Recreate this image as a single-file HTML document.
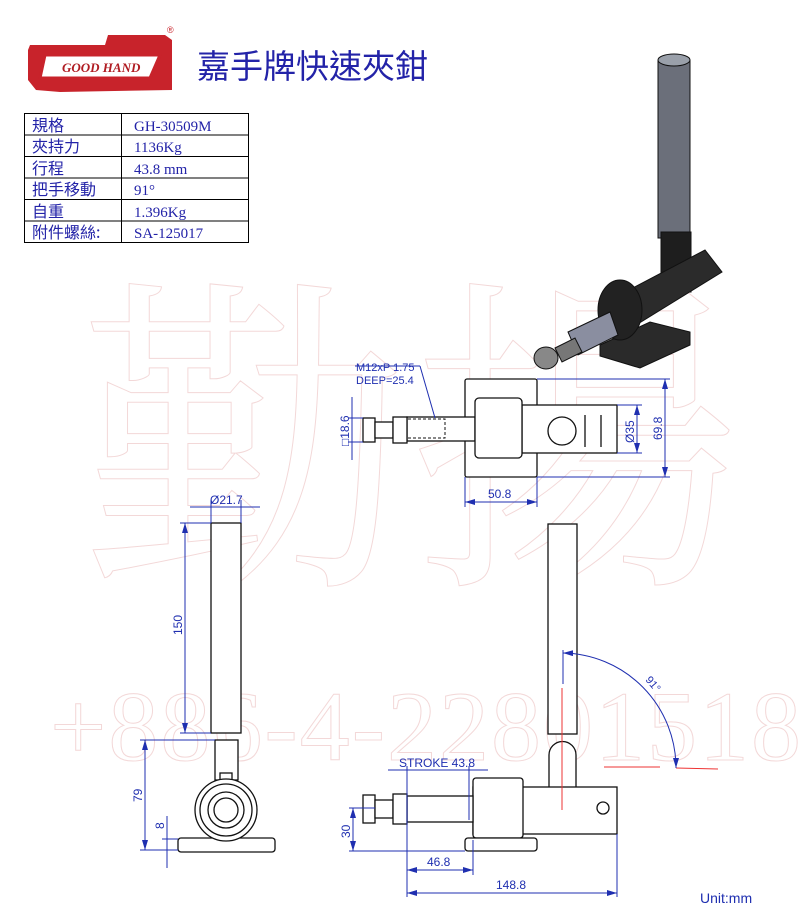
<!DOCTYPE html>
<html><head><meta charset="utf-8"><style>
html,body{margin:0;padding:0;background:#fff;}
body{width:800px;height:915px;position:relative;overflow:hidden;font-family:"Liberation Sans","Noto Sans CJK TC",sans-serif;}
svg{position:absolute;left:0;top:0;}
</style></head><body>
<svg width="800" height="915" viewBox="0 0 800 915" xmlns="http://www.w3.org/2000/svg">
<defs>
<marker id="a" viewBox="0 0 10 6" refX="10" refY="3" markerWidth="10" markerHeight="6" orient="auto-start-reverse" markerUnits="userSpaceOnUse"><path d="M0 0 L10 3 L0 6 Z" fill="#1f2fb0"/></marker>
</defs>
<!-- watermark -->
<g>
<text x="80" y="560" font-family="Noto Serif CJK SC,serif" font-size="330" fill="none" stroke="#f3d8d8">勤揚</text>
<text x="50" y="760" font-family="Liberation Serif,serif" font-size="100" fill="none" stroke="#f3d8d8" letter-spacing="2">+886-4-22801518</text>
</g>
<!-- logo -->
<g>
<path d="M30 45 L105 45 L108 35 L165 35 L172 40 L172 90 L60 92 L36 90 L28 80 L28 50 Z" fill="#c8232b"/>
<path d="M45 55 L160 55 L150 78 L40 78 Z" fill="#fff" stroke="#c8232b" stroke-width="3"/>
<text x="62" y="72" font-family="Liberation Serif,serif" font-style="italic" font-weight="bold" font-size="13" fill="#b01c22">GOOD HAND</text>
<text x="167" y="33" font-size="9" fill="#c8232b">®</text>
</g>
<text x="197" y="78" font-family="Noto Sans CJK TC,sans-serif" font-size="33" fill="#2323a8">嘉手牌快速夾鉗</text>
<!-- table -->
<g stroke="#000" stroke-width="1" fill="none">
<rect x="24.5" y="113.5" width="224" height="129"/>
<line x1="121.5" y1="113" x2="121.5" y2="243"/>
<line x1="24" y1="135" x2="248" y2="135"/>
<line x1="24" y1="156.5" x2="248" y2="156.5"/>
<line x1="24" y1="178" x2="248" y2="178"/>
<line x1="24" y1="199.5" x2="248" y2="199.5"/>
<line x1="24" y1="221" x2="248" y2="221"/>
</g>
<g font-size="16" fill="#2323a8" font-family="Noto Sans CJK TC,sans-serif">
<text x="32" y="131">規格</text><text x="32" y="152">夾持力</text><text x="32" y="174">行程</text>
<text x="32" y="195">把手移動</text><text x="32" y="217">自重</text><text x="32" y="238">附件螺絲:</text>
</g>
<g font-size="15" fill="#2323a8" font-family="Liberation Serif,serif">
<text x="134" y="131">GH-30509M</text><text x="134" y="152">1136Kg</text><text x="134" y="174">43.8 mm</text>
<text x="134" y="195">91°</text><text x="134" y="217">1.396Kg</text><text x="134" y="238">SA-125017</text>
</g>
<!-- 3D render -->
<g stroke="#111" stroke-width="1">
<polygon points="600,345 650,322 690,332 690,345 640,368 600,356" fill="#2a2a2a"/>
<rect x="658" y="60" width="32" height="178" fill="#6b6f7a"/>
<ellipse cx="674" cy="60" rx="16" ry="6" fill="#9aa0aa"/>
<rect x="661" y="232" width="30" height="60" fill="#1e1e1e"/>
<polygon points="610,300 705,250 722,272 628,330" fill="#2b2b2b"/>
<ellipse cx="620" cy="310" rx="22" ry="30" fill="#222"/>
<polygon points="568,332 610,312 618,335 578,355" fill="#8a8ea0"/>
<polygon points="555,348 575,338 582,352 562,362" fill="#777"/>
<ellipse cx="546" cy="358" rx="12" ry="11" fill="#888"/>
</g>
<!-- top view -->
<g stroke="#111" stroke-width="1.3" fill="#fff">
<rect x="465" y="379" width="72" height="98" rx="2"/>
<rect x="522" y="405" width="95" height="48"/>
<rect x="407" y="417" width="68" height="24"/>
<rect x="475" y="398" width="47" height="60" rx="4"/>
<rect x="363" y="418" width="12" height="24"/>
<rect x="375" y="422" width="18" height="16"/>
<rect x="393" y="417" width="14" height="26"/>
<circle cx="562" cy="431" r="14"/>
<line x1="585" y1="415" x2="585" y2="447"/><line x1="601" y1="415" x2="601" y2="447"/>
</g>
<path d="M408 419 H445 V438 H408" fill="none" stroke="#111" stroke-dasharray="3,2"/>
<g stroke="#1f2fb0" stroke-width="1" fill="none">
<line x1="355" y1="366" x2="420" y2="366"/><line x1="420" y1="366" x2="435" y2="418"/>
<line x1="537" y1="379" x2="670" y2="379"/><line x1="537" y1="477" x2="670" y2="477"/>
<line x1="665" y1="379" x2="665" y2="477" marker-start="url(#a)" marker-end="url(#a)"/>
<line x1="617" y1="405" x2="642" y2="405"/><line x1="617" y1="453" x2="642" y2="453"/>
<line x1="637" y1="405" x2="637" y2="453" marker-start="url(#a)" marker-end="url(#a)"/>
<line x1="352" y1="397" x2="352" y2="460"/><line x1="348" y1="418" x2="363" y2="418"/><line x1="348" y1="442" x2="363" y2="442"/>
<line x1="465" y1="477" x2="465" y2="507"/><line x1="537" y1="477" x2="537" y2="507"/>
<line x1="465" y1="502" x2="537" y2="502" marker-start="url(#a)" marker-end="url(#a)"/>
</g>
<g fill="#1f2fb0" font-size="11">
<text x="356" y="371">M12xP 1.75</text><text x="356" y="384">DEEP=25.4</text>
<text x="488" y="498" font-size="12">50.8</text>
<text transform="translate(662,440) rotate(-90)" font-size="12">69.8</text>
<text transform="translate(634,443) rotate(-90)" font-size="12">Ø35</text>
<text transform="translate(349,446) rotate(-90)" font-size="12">□18.6</text>
</g>
<!-- left view -->
<g stroke="#111" stroke-width="1.3" fill="#fff">
<rect x="211" y="523" width="30" height="210"/>
<rect x="215" y="740" width="23" height="40"/>
<rect x="220" y="773" width="12" height="8"/>
<rect x="178" y="838" width="97" height="14" rx="3"/>
<circle cx="226" cy="810" r="31"/><circle cx="226" cy="810" r="26"/>
<circle cx="226" cy="810" r="18"/><circle cx="226" cy="810" r="12"/>
</g>
<g stroke="#1f2fb0" stroke-width="1" fill="none">
<line x1="190" y1="507" x2="260" y2="507"/><line x1="211" y1="500" x2="211" y2="523"/><line x1="241" y1="500" x2="241" y2="523"/>
<line x1="180" y1="523" x2="211" y2="523"/><line x1="180" y1="733" x2="211" y2="733"/>
<line x1="185" y1="523" x2="185" y2="733" marker-start="url(#a)" marker-end="url(#a)"/>
<line x1="140" y1="740" x2="215" y2="740"/><line x1="140" y1="850" x2="178" y2="850"/>
<line x1="145" y1="740" x2="145" y2="850" marker-start="url(#a)" marker-end="url(#a)"/>
<line x1="167" y1="816" x2="167" y2="868"/><line x1="162" y1="839" x2="178" y2="839"/>
</g>
<g fill="#1f2fb0" font-size="12">
<text x="210" y="504">Ø21.7</text>
<text transform="translate(182,635) rotate(-90)">150</text>
<text transform="translate(142,802) rotate(-90)">79</text>
<text transform="translate(164,829) rotate(-90)">8</text>
</g>
<!-- right view -->
<g stroke="#111" stroke-width="1.3" fill="#fff">
<rect x="548" y="524" width="29" height="210"/>
<path d="M549 790 V755 A13.5 13.5 0 0 1 576 755 V790"/>
<rect x="473" y="787" width="144" height="47"/>
<rect x="473" y="778" width="50" height="60" rx="3"/>
<rect x="465" y="838" width="72" height="13" rx="3"/>
<rect x="407" y="796" width="66" height="26"/>
<rect x="363" y="795" width="12" height="28"/>
<rect x="375" y="800" width="18" height="18"/>
<rect x="393" y="794" width="14" height="30"/>
<circle cx="603" cy="808" r="6"/>
</g>
<g stroke="#e33" stroke-width="1" fill="none">
<line x1="562" y1="688" x2="562" y2="810"/>
<line x1="604" y1="767" x2="660" y2="767"/><line x1="676" y1="768" x2="718" y2="769"/>
</g>
<g stroke="#1f2fb0" stroke-width="1" fill="none">
<line x1="563" y1="650" x2="563" y2="684"/>
<path d="M563 653 A115 115 0 0 1 676 768" marker-start="url(#a)" marker-end="url(#a)"/>
<line x1="388" y1="770" x2="488" y2="770"/>
<line x1="407" y1="766" x2="407" y2="897"/><line x1="469" y1="766" x2="469" y2="820"/>
<line x1="473" y1="840" x2="473" y2="875"/><line x1="617" y1="834" x2="617" y2="897"/>
<line x1="407" y1="870" x2="473" y2="870" marker-start="url(#a)" marker-end="url(#a)"/>
<line x1="407" y1="893" x2="617" y2="893" marker-start="url(#a)" marker-end="url(#a)"/>
<line x1="349" y1="808" x2="375" y2="808"/><line x1="349" y1="851" x2="465" y2="851"/>
<line x1="353" y1="808" x2="353" y2="851" marker-start="url(#a)" marker-end="url(#a)"/>
</g>
<g fill="#1f2fb0" font-size="12">
<text x="399" y="767">STROKE 43.8</text>
<text x="427" y="866">46.8</text>
<text x="496" y="889">148.8</text>
<text transform="translate(350,838) rotate(-90)">30</text>
<text transform="translate(645,680) rotate(50)" font-size="11">91°</text>
<text x="700" y="903" font-size="14">Unit:mm</text>
</g>
</svg>
</body></html>
